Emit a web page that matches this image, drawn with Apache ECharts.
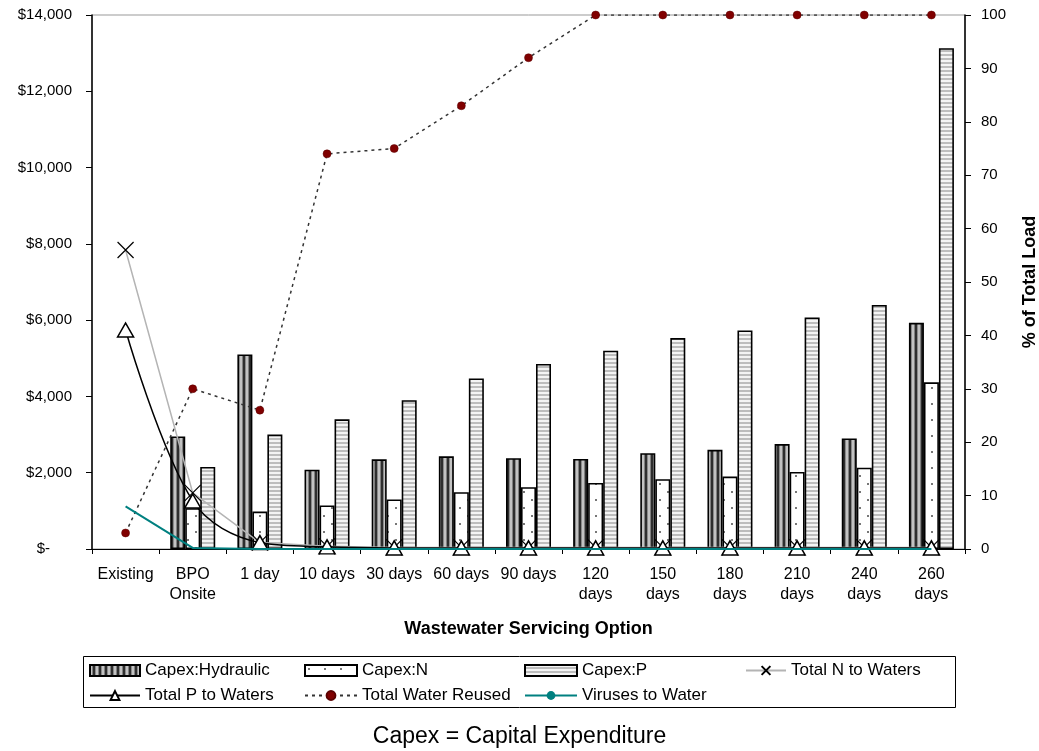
<!DOCTYPE html>
<html>
<head>
<meta charset="utf-8">
<script src="https://cdn.jsdelivr.net/npm/echarts@6/dist/echarts.min.js"></script>
<style>
  html, body { margin: 0; padding: 0; background: #fff; }
  #chart { width: 1039px; height: 751px; }
</style>
</head>
<body>
<div id="chart"></div>
<script>
// Wastewater servicing options: capital cost bars (left axis) and load shares (right axis)
const categories = ['Existing', 'BPO\nOnsite', '1 day', '10 days', '30 days', '60 days', '90 days',
  '120\ndays', '150\ndays', '180\ndays', '210\ndays', '240\ndays', '260\ndays'];
const capexHydraulic = [null, 2950, 5100, 2080, 2350, 2430, 2380, 2360, 2510, 2600, 2750, 2900, 5930];
const capexN = [null, 1070, 980, 1140, 1300, 1490, 1620, 1730, 1830, 1900, 2020, 2130, 4370];
const capexP = [null, 2150, 3000, 3400, 3900, 4470, 4850, 5200, 5530, 5730, 6070, 6400, 13130];
const totalNToWaters = [56, 10.5, 1.2, 0.5, 0.3, 0.3, 0.3, 0.3, 0.3, 0.3, 0.3, 0.3, 0.3];
const totalPToWaters = [41, 9, 1.2, 0.4, 0.2, 0.2, 0.2, 0.2, 0.2, 0.2, 0.2, 0.2, 0.2];
const totalWaterReused = [3, 30, 26, 74, 75, 83, 92, 100, 100, 100, 100, 100, 100];
const virusesToWater = [8, 0.2, 0, 0, 0, 0, 0, 0, 0, 0, 0, 0, 0];
const leftTicks = { min: 0, max: 14000, interval: 2000 };
const rightTicks = { min: 0, max: 100, interval: 10 };

const FONT = '"Liberation Sans", Arial, sans-serif';

// Fill patterns for the three bar series
function makePattern(w, h, draw) {
  const c = document.createElement('canvas');
  c.width = w; c.height = h;
  draw(c.getContext('2d'));
  return { image: c, repeat: 'repeat' };
}
const hydraulicFill = makePattern(6, 4, g => {
  g.fillStyle = '#c2c2c2'; g.fillRect(0, 0, 2, 4);
  g.fillStyle = '#808080'; g.fillRect(2, 0, 1, 4);
  g.fillStyle = '#2e2e2e'; g.fillRect(3, 0, 2, 4);
  g.fillStyle = '#8a8a8a'; g.fillRect(5, 0, 1, 4);
});
const nFill = makePattern(16, 16, g => {
  g.fillStyle = '#fff'; g.fillRect(0, 0, 16, 16);
  g.fillStyle = '#777'; g.fillRect(3, 3, 2, 2); g.fillRect(11, 11, 2, 2);
});
const pFill = makePattern(4, 4, g => {
  g.fillStyle = '#f4f4f4'; g.fillRect(0, 0, 4, 2);
  g.fillStyle = '#bdbdbd'; g.fillRect(0, 2, 4, 2);
});

const barStyle = fill => ({ color: fill, borderColor: '#000', borderWidth: 1.6 });
const crossPath = 'path://M0,0L10,10M10,0L0,10';

const legendText = { fontFamily: FONT, fontSize: 17, color: '#000' };
const legendBase = { orient: 'vertical', itemGap: 8, itemWidth: 52, itemHeight: 11, textStyle: legendText, padding: 0 };

const chart = echarts.init(document.getElementById('chart'), null, { renderer: 'canvas' });
chart.setOption({
  animation: false,
  backgroundColor: '#fff',
  textStyle: { fontFamily: FONT },
  grid: {
    left: 92, right: 74, top: 15, bottom: 202,
    containLabel: false, outerBoundsMode: 'none',
    show: true, borderColor: '#999', borderWidth: 1
  },
  title: {
    text: 'Capex = Capital Expenditure',
    left: 'center', top: 720,
    textStyle: { fontFamily: FONT, fontSize: 23, fontWeight: 'normal', color: '#000' }
  },
  legend: [
    Object.assign({}, legendBase, { left: 89, top: 662, itemWidth: 50,
      data: [{ name: 'Capex:Hydraulic', icon: 'rect' }, 'Total P to Waters'] }),
    Object.assign({}, legendBase, { left: 304, top: 662,
      data: [{ name: 'Capex:N', icon: 'rect' }, 'Total Water Reused'] }),
    Object.assign({}, legendBase, { left: 524, top: 662,
      data: [{ name: 'Capex:P', icon: 'rect' }, 'Viruses to Water'] }),
    Object.assign({}, legendBase, { left: 745, top: 662, itemWidth: 40, data: ['Total N to Waters'] })
  ],
  graphic: [{
    type: 'rect', left: 83, top: 656, z: -1,
    shape: { width: 872, height: 51 },
    style: { fill: '#fff', stroke: '#000', lineWidth: 1 }
  }],
  xAxis: {
    type: 'category',
    data: categories,
    boundaryGap: true,
    name: 'Wastewater Servicing Option',
    nameLocation: 'middle',
    nameGap: 71,
    nameTextStyle: { fontFamily: FONT, fontSize: 18, fontWeight: 'bold', color: '#000' },
    axisLine: { lineStyle: { color: '#000', width: 1 } },
    axisTick: { show: true, length: 5, lineStyle: { color: '#000' } },
    axisLabel: { interval: 0, fontFamily: FONT, fontSize: 16, color: '#000', margin: 16, lineHeight: 20 }
  },
  yAxis: [
    {
      type: 'value', position: 'left',
      min: leftTicks.min, max: leftTicks.max, interval: leftTicks.interval,
      splitLine: { show: false },
      axisLine: { show: true, lineStyle: { color: '#000', width: 1.5 } },
      axisTick: { show: true, length: 6, lineStyle: { color: '#000' } },
      axisLabel: {
        fontFamily: FONT, fontSize: 15, color: '#000', margin: 20,
        formatter: v => v === 0 ? '{z|$-}' : '$' + v.toLocaleString('en-US'),
        rich: { z: { fontFamily: FONT, fontSize: 15, color: '#000', padding: [0, 22, 0, 0] } }
      }
    },
    {
      type: 'value', position: 'right',
      min: rightTicks.min, max: rightTicks.max, interval: rightTicks.interval,
      splitLine: { show: false },
      name: '% of Total Load',
      nameLocation: 'middle',
      nameRotate: 90,
      nameGap: 56,
      nameTextStyle: { fontFamily: FONT, fontSize: 18, fontWeight: 'bold', color: '#000' },
      axisLine: { show: true, lineStyle: { color: '#000', width: 1.5 } },
      axisTick: { show: true, length: 6, lineStyle: { color: '#000' } },
      axisLabel: { fontFamily: FONT, fontSize: 15, color: '#000', margin: 16 }
    }
  ],
  series: [
    { name: 'Capex:Hydraulic', type: 'bar', yAxisIndex: 0, data: capexHydraulic,
      barWidth: 15, barGap: '0%', itemStyle: barStyle(hydraulicFill) },
    { name: 'Capex:N', type: 'bar', yAxisIndex: 0, data: capexN,
      barWidth: 15, barGap: '0%', itemStyle: barStyle(nFill) },
    { name: 'Capex:P', type: 'bar', yAxisIndex: 0, data: capexP,
      barWidth: 15, barGap: '0%', itemStyle: barStyle(pFill) },
    { name: 'Total N to Waters', type: 'line', yAxisIndex: 1, data: totalNToWaters,
      symbol: crossPath, symbolSize: 16, showAllSymbol: true, z: 5,
      lineStyle: { color: '#b4b4b4', width: 1.5 },
      itemStyle: { color: '#000', borderColor: '#000', borderWidth: 1.2 } },
    { name: 'Total P to Waters', type: 'line', yAxisIndex: 1, data: totalPToWaters,
      smooth: 0.35, symbol: 'triangle', symbolSize: [16, 14], showAllSymbol: true, z: 6,
      lineStyle: { color: '#000', width: 1.5 },
      itemStyle: { color: '#fff', borderColor: '#000', borderWidth: 1.5 } },
    { name: 'Total Water Reused', type: 'line', yAxisIndex: 1, data: totalWaterReused,
      symbol: 'circle', symbolSize: 8, showAllSymbol: true, z: 4,
      lineStyle: { color: '#333', width: 1.5, type: [3, 4] },
      itemStyle: { color: '#800000', borderColor: '#5a0000', borderWidth: 0.5 } },
    { name: 'Viruses to Water', type: 'line', yAxisIndex: 1, data: virusesToWater,
      symbol: 'none', z: 7,
      lineStyle: { color: '#008080', width: 2 },
      itemStyle: { color: '#008080' } }
  ]
});
</script>
</body>
</html>
